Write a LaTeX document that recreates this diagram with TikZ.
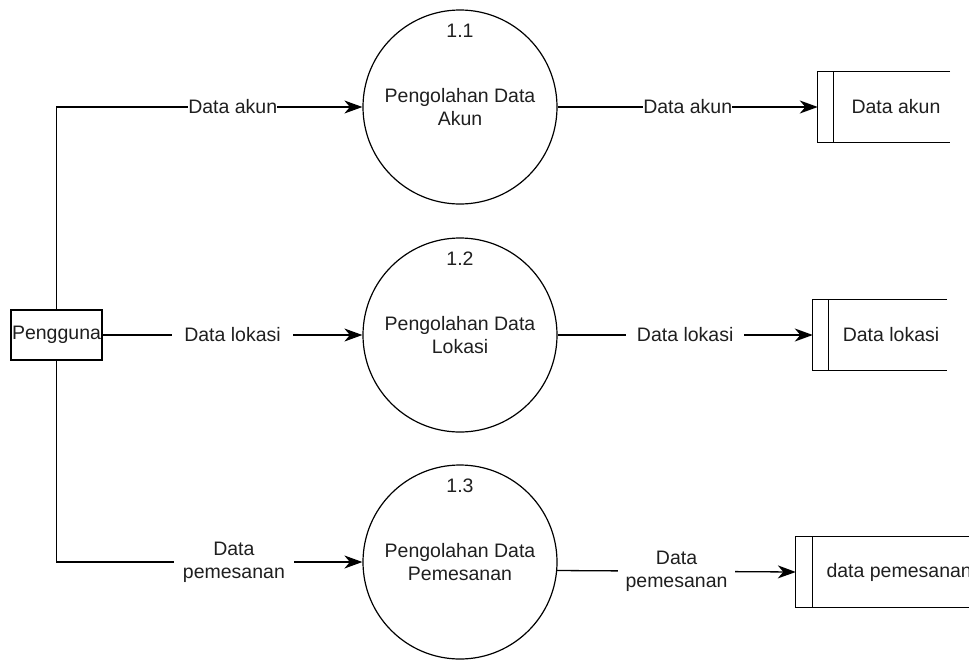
\documentclass[tikz,border=0pt]{standalone}
\usepackage{fontspec}
\setmainfont{Liberation Sans}
\usetikzlibrary{arrows.meta}
\begin{document}
\begin{tikzpicture}[x=1pt,y=-1pt,
  every node/.style={font=\fontsize{19.5}{23}\selectfont, text=black!88},
  proc/.style={circle,draw,line width=1.2pt,minimum size=194pt,inner sep=0pt,align=center},
  ent/.style={draw,line width=1.3pt,minimum width=91pt,minimum height=50pt,inner sep=0pt},
  store/.style={minimum height=70pt,inner sep=0pt},
  storeline/.style={line width=1.3pt},
  flow/.style={line width=1.3pt,-{Stealth[length=18pt,width=13pt,inset=5.5pt]}},
  lbl/.style={fill=white,inner xsep=0pt,inner ysep=1pt,align=center}]
\useasboundingbox (0,0) rectangle (969,659);

% external entity
\node[ent] (u) at (56.5,335) {Pengguna};

% processes
\node[proc] (c1) at (460,107) {Pengolahan Data\\Akun};
\node[proc] (c2) at (460,335) {Pengolahan Data\\Lokasi};
\node[proc] (c3) at (460,562) {Pengolahan Data\\Pemesanan};
\node (n1) at ([yshift=-21pt]c1.north) {1.1};
\node (n2) at ([yshift=-21pt]c2.north) {1.2};
\node (n3) at ([yshift=-21pt]c3.north) {1.3};

% data stores (open on the right)
\node[store,minimum width=132pt] (s1) at (884,107) {};
\node[store,minimum width=134pt] (s2) at (880,335) {};
\node[store,minimum width=194pt] (s3) at (893,572) {};
\foreach \s/\w in {s1/16pt,s2/16pt,s3/17pt}{
  \draw[storeline] (\s.north east) -- (\s.north west) -- (\s.south west) -- (\s.south east);
  \draw[storeline] ([xshift=\w]\s.north west) -- ([xshift=\w]\s.south west);
}
\node (t1) at (896,107) {Data akun};
\node (t2) at (891,335) {Data lokasi};
\node[anchor=west] (t3) at (823,572) {data pemesanan};

% flows from the user
\draw[flow] (u.north) |- node[lbl,pos=0.788] (l1) {Data akun} (c1.west);
\draw[flow] (u.east) -- node[lbl,inner xsep=12pt] (l2) {Data lokasi} (c2.west);
\draw[flow] (u.south) |- node[lbl,inner xsep=9pt,pos=0.79] (l3) {Data\\pemesanan} (c3.west);

% flows into the stores
\draw[flow] (c1.east) -- node[lbl] (r1) {Data akun} (s1.west);
\draw[flow] (c2.east) -- node[lbl,inner xsep=11pt] (r2) {Data lokasi} (s2.west);
\draw[flow] (c3.-5.9) -- node[lbl,inner xsep=8pt] (r3) {Data\\pemesanan} (s3.west);
\end{tikzpicture}
\end{document}
